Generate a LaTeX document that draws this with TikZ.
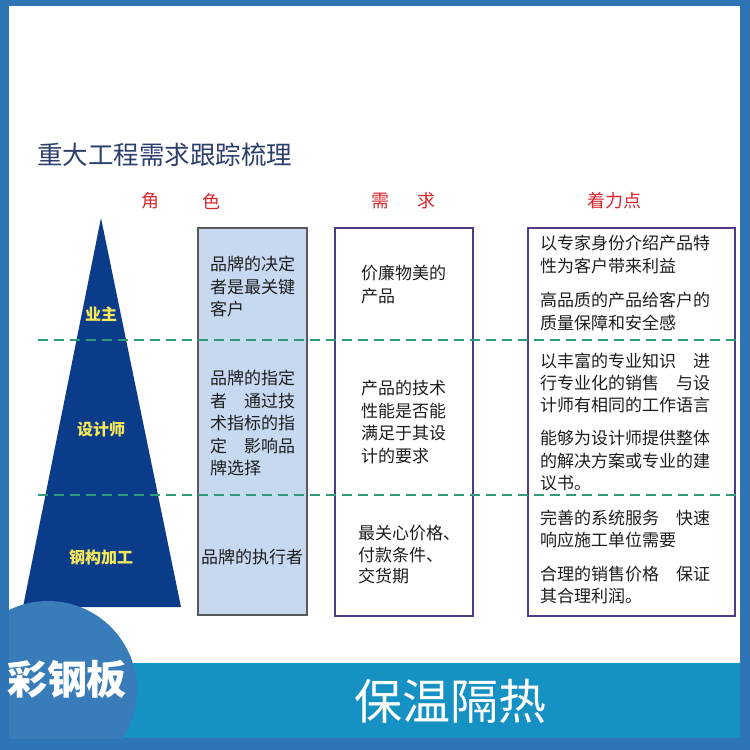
\documentclass[tikz,border=0pt]{standalone}
\usepackage{fontspec}
\setmainfont{Noto Sans CJK SC}
\definecolor{frameblue}{HTML}{2E75B6}
\definecolor{bandteal}{HTML}{1591C3}
\definecolor{navy}{HTML}{0B3C8A}
\definecolor{titleblue}{HTML}{2C3E6B}
\definecolor{headred}{HTML}{D9262B}
\definecolor{labyellow}{HTML}{F7E85A}
\definecolor{boxfill}{HTML}{C6D9F0}
\definecolor{boxgray}{HTML}{595959}
\definecolor{boxpurple}{HTML}{4F3B86}
\definecolor{dashgreen}{HTML}{2E9C7A}
\definecolor{bodytext}{HTML}{1E1E1E}
\tikzset{
  body/.style={anchor=north west, inner sep=0pt, align=left, text=bodytext,
    font=\fontsize{17}{22.5}\selectfont},
  head/.style={text=headred, inner sep=0pt, font=\fontsize{18}{20}\selectfont},
  lab/.style={text=labyellow, inner sep=0pt, font=\bfseries\fontsize{16}{18}\selectfont},
  sep/.style={dashgreen, line width=2.4pt, dash pattern=on 10pt off 6pt},
}
\begin{document}
\begin{tikzpicture}[x=1pt,y=-1pt]
\useasboundingbox (0,0) rectangle (750,750);
% frame
\fill[frameblue] (0,0) rectangle (750,750);
\fill[white] (9,6) rectangle (740,738);
% bottom band
\fill[bandteal] (9,663) rectangle (740,738);
% title
\node[anchor=west, inner sep=0pt, text=titleblue, font=\fontsize{25.5}{28}\selectfont] (title) at (37,155) {重大工程需求跟踪梳理};
% headers
\node[head] (h1) at (150,201) {角};
\node[head] (h2) at (211,201) {色};
\node[head] (h3) at (380,201) {需};
\node[head] (h4) at (426,201) {求};
\node[head] (h5) at (614,201) {着力点};
% triangle
\fill[navy] (101,218) -- (181,607) -- (23,607) -- cycle;
\node[lab] (l1) at (101,314) {业主};
\node[lab] (l2) at (101,429) {设计师};
\node[lab] (l3) at (101,557) {钢构加工};
% boxes
\draw[fill=boxfill, draw=boxgray, line width=1.5pt] (198,228) rectangle (307,615);
\draw[draw=boxpurple, line width=2pt] (335,228) rectangle (473,616);
\draw[draw=boxpurple, line width=2pt] (528,228) rectangle (735,616);
% box 1 texts
\node[body] (a1) at (210,256) {品牌的决定\\者是最关键\\客户};
\node[body] (a2) at (210,370) {品牌的指定\\者　通过技\\术指标的指\\定　影响品\\牌选择};
\node[body, anchor=center] (a3) at (252,557) {品牌的执行者};
% box 2 texts
\node[body] (b1) at (361,265) {价廉物美的\\产品};
\node[body] (b2) at (361,380) {产品的技术\\性能是否能\\满足于其设\\计的要求};
\node[body, font=\fontsize{17}{21.5}\selectfont] (b3) at (358,525) {最关心价格、\\付款条件、\\交货期};
% box 3 texts
\node[body] (c1) at (540,235) {以专家身份介绍产品特\\性为客户带来利益};
\node[body] (c2) at (540,292) {高品质的产品给客户的\\质量保障和安全感};
\node[body, font=\fontsize{17}{22}\selectfont] (c3) at (540,353) {以丰富的专业知识　进\\行专业化的销售　与设\\计师有相同的工作语言};
\node[body] (c4) at (540,430) {能够为设计师提供整体\\的解决方案或专业的建\\议书。};
\node[body, font=\fontsize{17}{21.5}\selectfont] (c5) at (540,510) {完善的系统服务　快速\\响应施工单位需要};
\node[body, font=\fontsize{17}{21.5}\selectfont] (c6) at (540,566) {合理的销售价格　保证\\其合理利润。};
% dashed separators
\coordinate (s1a) at (38,340); \coordinate (s1b) at (738,340);
\coordinate (s2a) at (38,495); \coordinate (s2b) at (738,495);
\draw[sep] (s1a) -- (s1b);
\draw[sep] (s2a) -- (s2b);
% circle badge
\begin{scope}
\clip (9,0) rectangle (740,738);
\fill[frameblue!95!white] (48,690) circle (89);
\end{scope}
\node[text=white, inner sep=0pt, font=\bfseries\fontsize{40}{44}\selectfont] (badge) at (67,679) {彩钢板};
\node[text=white, inner sep=0pt, font=\fontsize{48}{52}\selectfont] (band) at (450,701) {保温隔热};
\end{tikzpicture}
\end{document}
